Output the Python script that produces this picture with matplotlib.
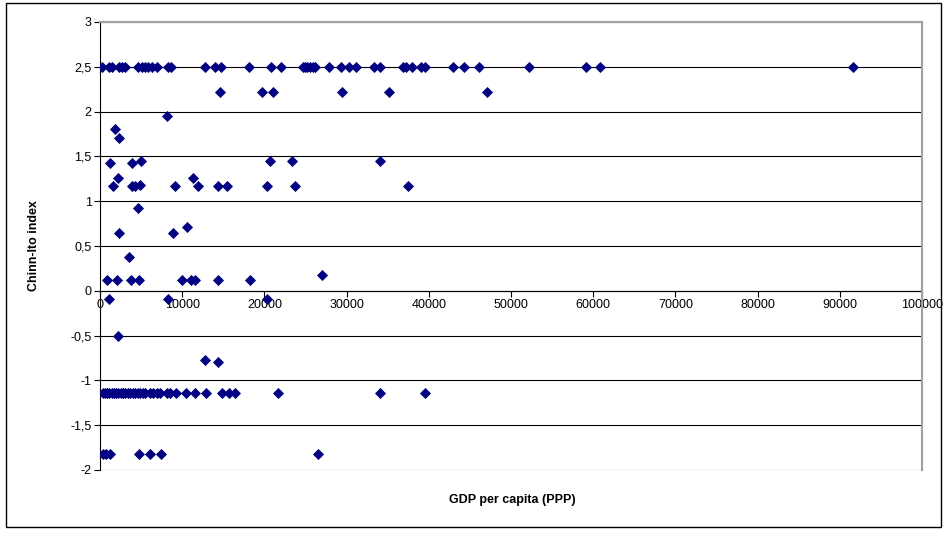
import matplotlib.pyplot as plt
from matplotlib.patches import Rectangle
from matplotlib.ticker import FuncFormatter, MultipleLocator

plt.rcParams['font.family'] = ['Liberation Sans', 'DejaVu Sans']

# GDP per capita (PPP) for each Chinn-Ito level
gdp_250 = [280, 1100, 1500, 2300, 2700, 3100, 4660, 5070, 5470, 5880, 6290, 6900,
           8300, 8600, 12770, 13990, 14680, 18090, 20800, 21980, 24660, 24940,
           25220, 25550, 25880, 26150, 27860, 29280, 30290, 31140, 33330, 34060,
           36900, 37190, 37990, 39010, 39540, 42980, 44320, 46140, 52250, 59090,
           60830, 91570]
gdp_222 = [14600, 19700, 21100, 29500, 35200, 47100]
gdp_145 = [20700, 23400, 34100]
gdp_117 = [1620, 3850, 4260, 9120, 11960, 14390, 15410, 20280, 23720, 37510]
gdp_012 = [890, 2100, 3770, 4740, 10010, 11030, 11560, 14390, 18250]
gdp_m008 = [1100, 8230, 20280]
gdp_m115 = [400, 650, 900, 1150, 1400, 1650, 1900, 2200, 2500, 2800, 3100, 3400,
            3700, 4000, 4300, 4600, 4900, 5200, 5500, 6100, 6500, 6900, 7300,
            8100, 8500, 9200, 10500, 11600, 12900, 14800, 15700, 16400, 21600,
            34100, 39500]
gdp_m184 = [330, 730, 1220, 4780, 6080, 7380, 26560]

# single points
other_x = [8190, 1825, 2350, 1220, 3930, 4990, 2230, 11350, 4870, 4660, 2350,
           8920, 10540, 3530, 26970, 2230, 12770, 14390]
other_y = [1.955, 1.81, 1.70, 1.43, 1.43, 1.45, 1.26, 1.255, 1.185, 0.92, 0.65,
           0.65, 0.71, 0.38, 0.18, -0.50, -0.77, -0.79]

xs = (gdp_250 + gdp_222 + gdp_145 + gdp_117 + gdp_012 + gdp_m008 + gdp_m115
      + gdp_m184 + other_x)
ys = ([2.5] * len(gdp_250) + [2.22] * len(gdp_222) + [1.45] * len(gdp_145)
      + [1.17] * len(gdp_117) + [0.125] * len(gdp_012) + [-0.086] * len(gdp_m008)
      + [-1.14] * len(gdp_m115) + [-1.82] * len(gdp_m184) + other_y)

fig = plt.figure(figsize=(9.49, 5.34), dpi=100)
ax = fig.add_axes([100 / 949, 1 - 470 / 534, 822 / 949, 448 / 534])

ax.scatter(xs, ys, marker='D', s=32, color='#000080', linewidths=0, zorder=3)

ax.set_xlim(0, 100000)
ax.set_ylim(-2, 3)
ax.xaxis.set_major_locator(MultipleLocator(10000))
ax.yaxis.set_major_locator(MultipleLocator(0.5))
ax.yaxis.set_major_formatter(FuncFormatter(lambda v, p: ('%g' % v).replace('.', ',')))
ax.grid(axis='y', color='black', linewidth=0.8, zorder=1)

# x axis crosses at y = 0, like Excel
ax.spines['bottom'].set_position(('data', 0))
ax.spines['bottom'].set_zorder(2)
ax.spines['top'].set_color('#a0a0a0')
ax.spines['right'].set_color('#a0a0a0')
ax.spines['top'].set_linewidth(1.5)
ax.spines['right'].set_linewidth(1.5)
ax.tick_params(axis='both', direction='out', length=4, width=0.8, labelsize=9,
               pad=2, colors='black')

ax.set_ylabel('Chinn-Ito index', fontsize=9, fontweight='bold', labelpad=22)
fig.text(512 / 949, 1 - 500 / 534, 'GDP per capita (PPP)', fontsize=9,
         fontweight='bold', ha='center', va='center')

# chart border
fig.patches.append(Rectangle((6 / 949, 1 - 527 / 534), 935 / 949, 524 / 534,
                             transform=fig.transFigure, fill=False,
                             edgecolor='black', linewidth=1))

fig.savefig('out.png', dpi=100)
